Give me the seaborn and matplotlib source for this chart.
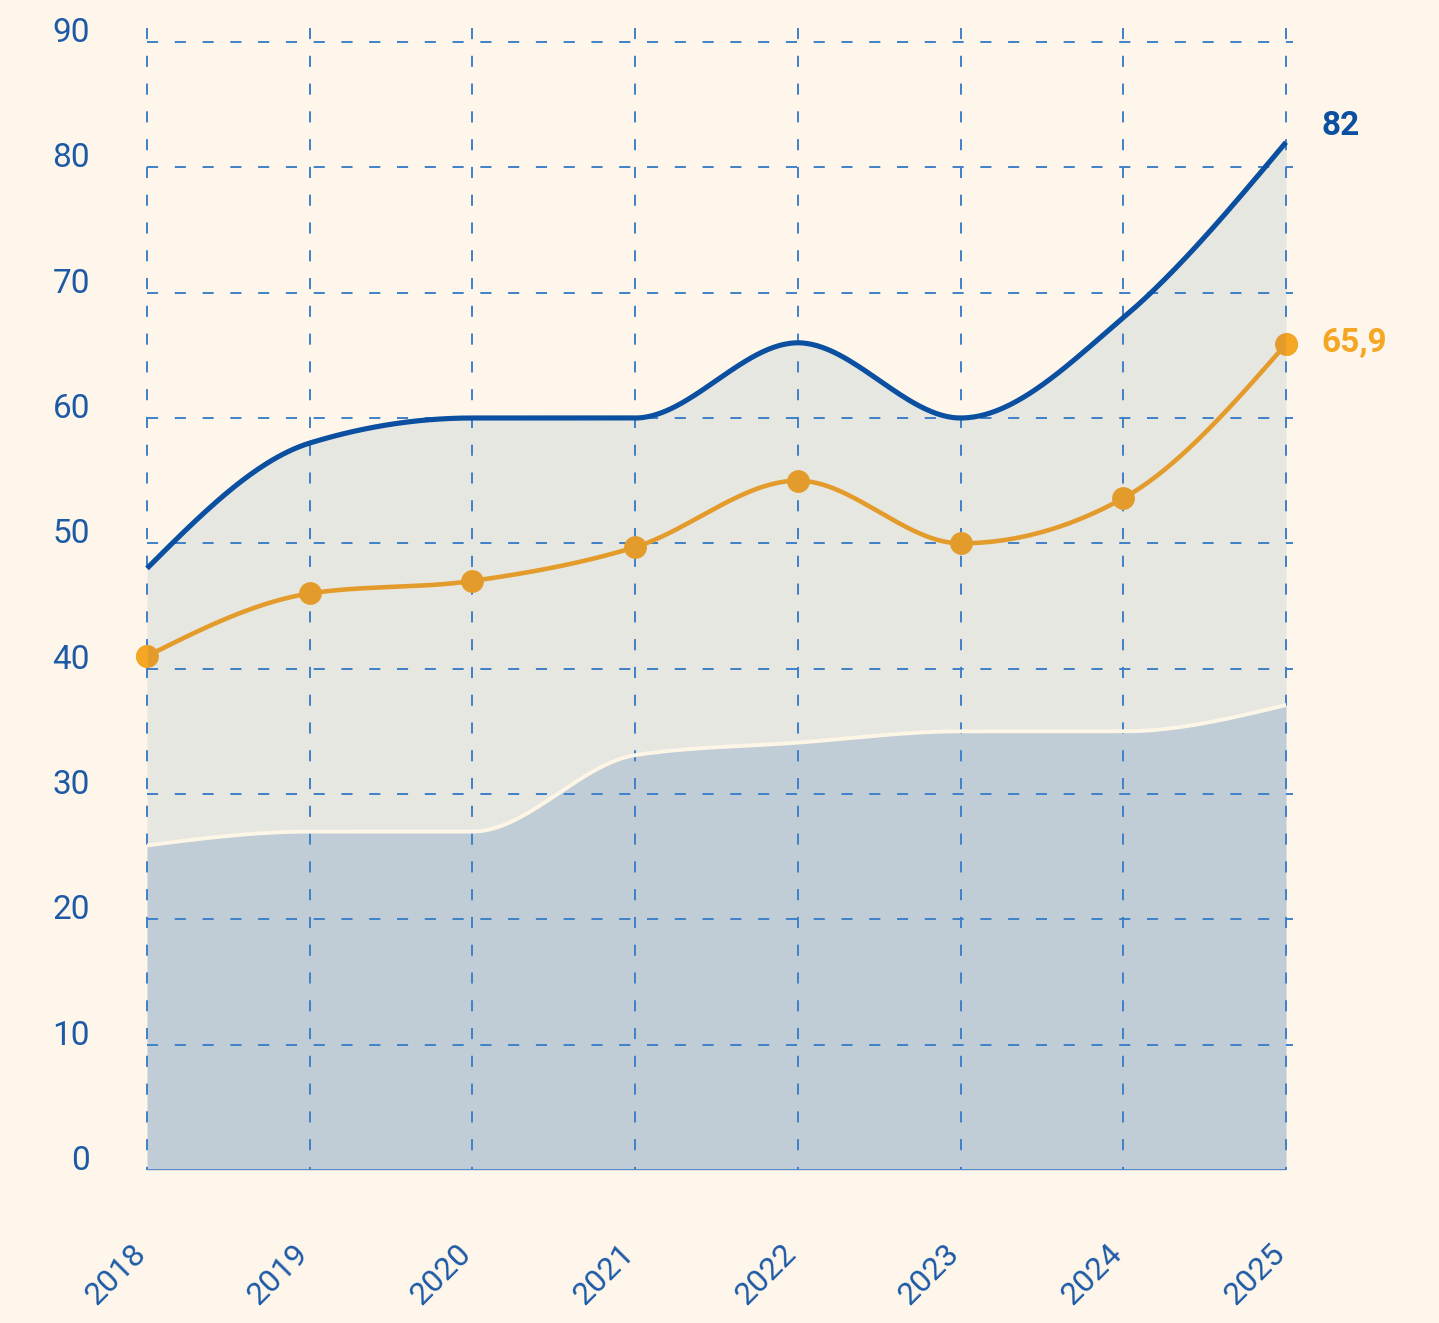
import numpy as np
import matplotlib.pyplot as plt
import seaborn as sns
from matplotlib.patches import Rectangle
from matplotlib.transforms import ScaledTranslation

years = ['2018', '2019', '2020', '2021', '2022', '2023', '2024', '2025']
top_line = [48, 58, 60, 60, 66, 60, 68, 82]
orange_line = [41, 46, 47, 49.7, 55, 50, 53.6, 65.9]
lower_line = [25.9, 27, 27, 33.1, 34.1, 35, 35, 37.1]
yticks = [0, 10, 20, 30, 40, 50, 60, 70, 80, 90]

BG = '#FEF6EA'
BLUE = '#0B4FA0'
GRID = '#3F80C8'
TXT = '#1D5AA6'
ORANGE = '#F5A623'
ORANGE_DK = '#E39C2C'


def monotone(y, n=60):
    # smooth curve through the points, same shape as d3 curveMonotoneX
    y = np.asarray(y, float)
    x = np.arange(len(y), dtype=float)
    s = np.diff(y)
    t = np.zeros(len(y))
    for i in range(1, len(y) - 1):
        p = (s[i - 1] + s[i]) / 2
        t[i] = (np.sign(s[i - 1]) + np.sign(s[i])) * min(abs(s[i - 1]), abs(s[i]), 0.5 * abs(p))
    t[0] = (3 * s[0] - t[1]) / 2
    t[-1] = (3 * s[-1] - t[-2]) / 2
    xs, ys = [], []
    for i in range(len(y) - 1):
        u = np.linspace(0, 1, n, endpoint=(i == len(y) - 2))
        h00 = 2 * u**3 - 3 * u**2 + 1
        h10 = u**3 - 2 * u**2 + u
        h01 = -2 * u**3 + 3 * u**2
        h11 = u**3 - u**2
        xs.append(x[i] + u)
        ys.append(h00 * y[i] + h10 * t[i] + h01 * y[i + 1] + h11 * t[i + 1])
    return np.concatenate(xs), np.concatenate(ys)


sns.set_style('white')
plt.rcParams['font.family'] = ['Roboto', 'DejaVu Sans']
plt.rcParams['lines.scale_dashes'] = False

fig = plt.figure(figsize=(14.39, 13.23), dpi=100, facecolor=BG)
W, H = 1439, 1323
ax = fig.add_axes([147 / W, 1 - 1170 / H, (1286 - 147) / W, (1170 - 42) / H])
ax.set_facecolor(BG)
ax.set_xlim(0, 7)
ax.set_ylim(0, 90)
for sp in ax.spines.values():
    sp.set_visible(False)

xt, yt = monotone(top_line)
xo, yo = monotone(orange_line)
xl, yl = monotone(lower_line)
idx = np.arange(len(years))

ax.fill_between(xl, 0, yl, color='#C0CCD6', lw=0, zorder=1)
ax.fill_between(xl, yl, yt, color='#E7E7E2', lw=0, zorder=1)

dash = (0, (8, 12))
for y in yticks[1:]:
    ax.plot([0, 7.04], [y, y], color=GRID, lw=1.4, ls=dash, zorder=2, clip_on=False)
for x in idx:
    ax.plot([x, x], [91.1, 0], color=GRID, lw=1.4, ls=dash, zorder=2, clip_on=False)
ax.plot([0, 7], [0, 0], color='#4A86C8', lw=2, zorder=2, solid_capstyle='butt')

sns.lineplot(x=xl, y=yl, color='#FDF5E6', lw=2.8, sort=False, estimator=None, ax=ax, zorder=3)
sns.lineplot(x=xo, y=yo, color=ORANGE_DK, lw=3.3, sort=False, estimator=None, ax=ax, zorder=4)
sns.scatterplot(x=idx, y=orange_line, color=ORANGE_DK, s=270, linewidth=0, ax=ax, zorder=5, clip_on=False)
# the end markers stick out of the grey area and are brighter there
for clip_x in (-1, 7):
    sns.scatterplot(x=idx, y=orange_line, color=ORANGE, s=270, linewidth=0, ax=ax, zorder=6)
    coll = ax.collections[-1]
    coll.set_clip_path(Rectangle((clip_x, 0), 1, 100, transform=ax.transData))
sns.lineplot(x=xt, y=yt, color=BLUE, lw=3.7, sort=False, estimator=None, ax=ax, zorder=7)
for ln in ax.lines[-1:]:
    ln.set_clip_on(False)
    ln.set_solid_capstyle('butt')

ax.text(7.22, 83.3, '82', color=BLUE, fontsize=24, fontweight='bold', va='center', ha='left')
ax.text(7.22, 66, '65,9', color=ORANGE, fontsize=24, fontweight='bold', va='center', ha='left')

ax.set_yticks(yticks)
ax.set_yticklabels([str(v) for v in yticks], fontsize=24, color=TXT)
ax.tick_params(axis='y', length=0, pad=41)
plt.setp(ax.get_yticklabels(), va='baseline')

ax.set_xticks(idx)
ax.set_xticklabels(years, fontsize=23, color=TXT, rotation=45, ha='right', va='center',
                   rotation_mode='anchor')
ax.tick_params(axis='x', length=0, pad=57)
for lab in ax.get_xticklabels():
    lab.set_transform(lab.get_transform() + ScaledTranslation(-0.06, 0, fig.dpi_scale_trans))
ax.set_xlabel('')
ax.set_ylabel('')
ax.grid(False)

fig.savefig('out.png', dpi=100, facecolor=BG)
